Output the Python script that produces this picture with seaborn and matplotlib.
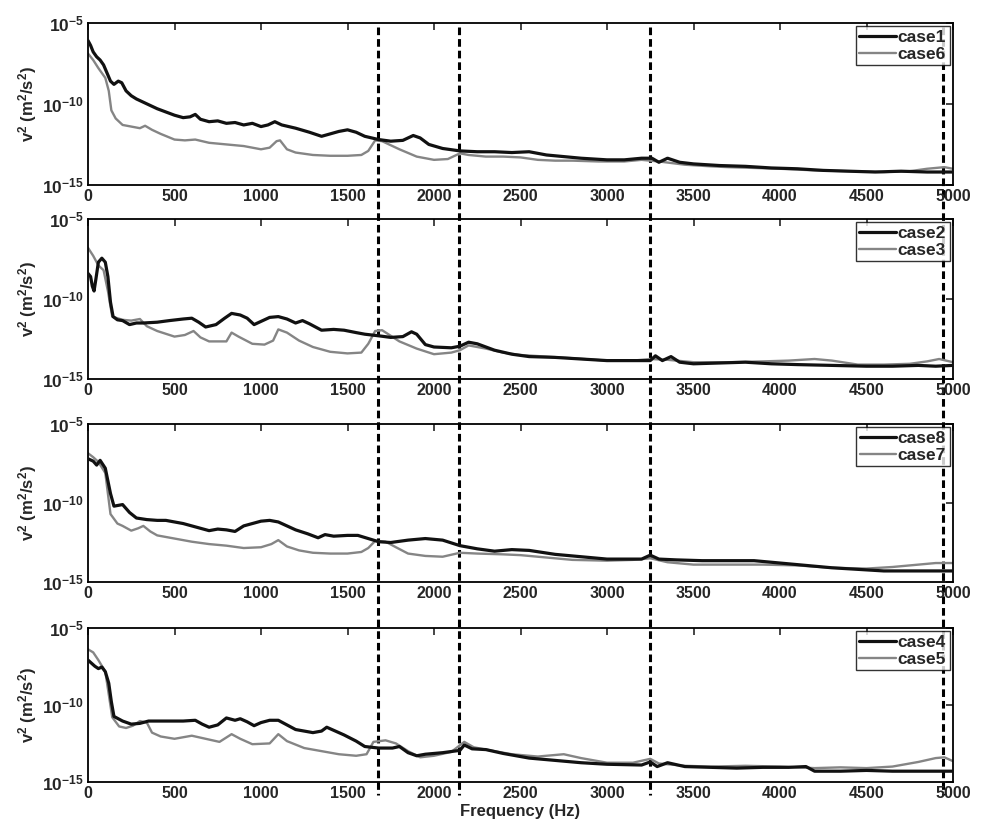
import numpy as np
import pandas as pd
import seaborn as sns
import matplotlib
matplotlib.use("Agg")
import matplotlib.pyplot as plt
from matplotlib.lines import Line2D
from matplotlib.ticker import FixedLocator, FixedFormatter, NullLocator
from matplotlib.transforms import blended_transform_factory

# spectra: frequency (Hz) and log10 of v^2 (m^2/s^2)
case1_f = [0, 15, 30, 50, 70, 90, 110, 130, 150, 175, 195, 220, 250, 280, 320, 360, 400, 450, 500, 550,
           590, 620, 650, 700, 750, 800, 850, 900, 950, 1000, 1040, 1080, 1120, 1200, 1280, 1350, 1400,
           1450, 1500, 1550, 1600, 1680, 1750, 1820, 1880, 1920, 1970, 2050, 2150, 2250, 2350, 2450,
           2550, 2650, 2750, 2850, 3000, 3100, 3200, 3260, 3300, 3350, 3420, 3500, 3650, 3800, 3950,
           4100, 4250, 4400, 4550, 4700, 4850, 5000]
case1_e = [-6.1, -6.4, -6.8, -7.1, -7.3, -7.6, -8.1, -8.6, -8.8, -8.6, -8.7, -9.2, -9.5, -9.7, -9.9, -10.1,
           -10.3, -10.5, -10.7, -10.85, -10.8, -10.65, -10.95, -11.1, -11.05, -11.2, -11.15, -11.3, -11.2,
           -11.4, -11.3, -11.1, -11.3, -11.5, -11.75, -12.0, -11.85, -11.7, -11.6, -11.75, -12.0, -12.2,
           -12.3, -12.25, -11.95, -12.1, -12.5, -12.75, -12.9, -12.95, -12.95, -13.0, -12.95, -13.15,
           -13.25, -13.35, -13.45, -13.45, -13.35, -13.35, -13.6, -13.35, -13.6, -13.7, -13.8, -13.85,
           -13.95, -14.0, -14.1, -14.15, -14.2, -14.15, -14.2, -14.2]

case6_f = [0, 30, 60, 100, 120, 135, 160, 200, 250, 300, 330, 370, 420, 500, 560, 620, 700, 800, 900, 1000,
           1050, 1090, 1110, 1150, 1200, 1300, 1400, 1500, 1580, 1620, 1660, 1700, 1800, 1900, 2000, 2080,
           2150, 2200, 2300, 2400, 2500, 2600, 2700, 2800, 2950, 3100, 3200, 3300, 3450, 3600, 3700, 3850,
           4000, 4200, 4400, 4600, 4750, 4850, 4950, 5000]
case6_e = [-6.9, -7.3, -7.8, -8.4, -9.2, -10.4, -10.9, -11.3, -11.4, -11.5, -11.35, -11.6, -11.85, -12.2,
           -12.25, -12.2, -12.4, -12.5, -12.6, -12.8, -12.7, -12.3, -12.25, -12.8, -13.0, -13.15, -13.2,
           -13.2, -13.15, -12.9, -12.25, -12.3, -12.8, -13.25, -13.45, -13.4, -13.05, -13.15, -13.25,
           -13.25, -13.3, -13.45, -13.5, -13.5, -13.55, -13.55, -13.45, -13.55, -13.75, -13.85, -13.9,
           -13.95, -14.0, -14.1, -14.15, -14.2, -14.15, -14.0, -13.9, -14.0]

case2_f = [0, 15, 25, 35, 45, 60, 80, 100, 115, 130, 145, 170, 200, 240, 280, 320, 400, 470, 550, 600, 640,
           680, 740, 790, 830, 880, 920, 960, 1000, 1050, 1100, 1150, 1200, 1240, 1280, 1350, 1420, 1480,
           1550, 1600, 1680, 1750, 1820, 1870, 1900, 1950, 2000, 2100, 2150, 2200, 2250, 2350, 2450, 2550,
           2700, 2850, 3000, 3150, 3250, 3280, 3320, 3370, 3420, 3500, 3650, 3800, 3950, 4100, 4300, 4500,
           4650, 4800, 4900, 5000]
case2_e = [-8.4, -8.6, -9.2, -9.5, -8.8, -7.7, -7.45, -7.7, -8.6, -10.2, -11.1, -11.3, -11.35, -11.6,
           -11.5, -11.5, -11.45, -11.35, -11.25, -11.2, -11.45, -11.75, -11.6, -11.2, -10.9, -11.0, -11.2,
           -11.6, -11.4, -11.15, -11.1, -11.25, -11.5, -11.35, -11.55, -11.95, -11.9, -11.95, -12.1, -12.2,
           -12.3, -12.4, -12.35, -12.05, -12.2, -12.85, -13.0, -13.05, -12.95, -12.7, -12.8, -13.2, -13.45,
           -13.6, -13.65, -13.75, -13.85, -13.85, -13.85, -13.55, -13.85, -13.6, -13.95, -14.05, -14.0,
           -13.95, -14.05, -14.1, -14.15, -14.2, -14.2, -14.15, -14.2, -14.15]

case3_f = [0, 30, 60, 90, 115, 140, 200, 250, 300, 340, 400, 500, 560, 610, 650, 700, 800, 830, 870, 950,
           1020, 1070, 1100, 1150, 1220, 1300, 1400, 1500, 1580, 1620, 1660, 1700, 1750, 1800, 1900, 2000,
           2100, 2150, 2200, 2300, 2400, 2500, 2650, 2800, 3000, 3150, 3250, 3350, 3500, 3700, 3900, 4050,
           4200, 4300, 4450, 4600, 4750, 4850, 4920, 5000]
case3_e = [-6.8, -7.3, -7.9, -8.2, -9.5, -11.1, -11.3, -11.35, -11.25, -11.7, -12.0, -12.35, -12.25, -12.0,
           -12.4, -12.65, -12.65, -12.1, -12.35, -12.8, -12.85, -12.6, -11.9, -12.1, -12.6, -13.0, -13.3,
           -13.4, -13.35, -12.8, -12.0, -11.95, -12.3, -12.65, -13.1, -13.45, -13.35, -13.2, -12.9, -13.1,
           -13.35, -13.5, -13.6, -13.7, -13.85, -13.85, -13.75, -13.8, -13.95, -13.95, -13.9, -13.85,
           -13.75, -13.85, -14.1, -14.1, -14.05, -13.9, -13.75, -13.95]

case8_f = [0, 30, 50, 70, 100, 130, 150, 175, 200, 240, 280, 340, 400, 450, 500, 550, 600, 650, 700, 750,
           800, 850, 900, 950, 1000, 1050, 1100, 1150, 1200, 1270, 1330, 1370, 1420, 1500, 1560, 1620, 1680,
           1750, 1850, 1950, 2050, 2150, 2250, 2350, 2450, 2550, 2700, 2850, 3000, 3200, 3250, 3300, 3400,
           3550, 3700, 3850, 4000, 4150, 4300, 4450, 4600, 4750, 4900, 5000]
case8_e = [-7.2, -7.35, -7.6, -7.3, -7.8, -9.4, -10.2, -10.15, -10.1, -10.6, -10.95, -11.05, -11.1, -11.1,
           -11.2, -11.3, -11.45, -11.6, -11.75, -11.65, -11.7, -11.8, -11.45, -11.3, -11.15, -11.1, -11.2,
           -11.45, -11.7, -11.95, -12.2, -12.0, -12.1, -12.05, -12.05, -12.25, -12.45, -12.5, -12.35, -12.25,
           -12.35, -12.7, -12.9, -13.05, -12.95, -13.0, -13.25, -13.4, -13.55, -13.55, -13.3, -13.55, -13.6,
           -13.65, -13.65, -13.65, -13.8, -13.95, -14.1, -14.2, -14.3, -14.3, -14.3, -14.3]

case7_f = [0, 30, 60, 100, 130, 170, 200, 250, 290, 320, 360, 400, 500, 600, 700, 800, 900, 1000, 1060, 1100,
           1150, 1220, 1300, 1400, 1500, 1580, 1620, 1660, 1720, 1780, 1850, 1950, 2050, 2150, 2250, 2400,
           2500, 2650, 2800, 3000, 3150, 3250, 3350, 3500, 3700, 3900, 4100, 4300, 4500, 4650, 4800, 4900,
           5000]
case7_e = [-6.85, -7.1, -7.4, -8.1, -10.7, -11.3, -11.45, -11.75, -11.6, -11.45, -11.8, -12.05, -12.25,
           -12.45, -12.6, -12.7, -12.85, -12.8, -12.6, -12.35, -12.75, -13.0, -13.15, -13.2, -13.2, -13.1,
           -12.85, -12.4, -12.45, -12.8, -13.2, -13.35, -13.4, -13.15, -13.2, -13.25, -13.3, -13.45, -13.6,
           -13.65, -13.6, -13.5, -13.75, -13.9, -13.9, -13.9, -13.95, -14.1, -14.15, -14.05, -13.9, -13.8,
           -13.8]

case4_f = [0, 20, 40, 60, 80, 100, 120, 135, 150, 200, 250, 300, 350, 450, 550, 620, 660, 700, 750, 800, 850,
           880, 920, 960, 1000, 1050, 1100, 1150, 1200, 1300, 1350, 1380, 1420, 1480, 1550, 1600, 1680, 1760,
           1800, 1850, 1900, 1950, 2050, 2150, 2175, 2220, 2300, 2400, 2550, 2700, 2850, 3000, 3200, 3250,
           3290, 3350, 3450, 3600, 3750, 3900, 4050, 4150, 4200, 4350, 4500, 4650, 4800, 5000]
case4_e = [-7.1, -7.3, -7.5, -7.65, -7.55, -7.85, -8.6, -9.8, -10.75, -11.05, -11.25, -11.2, -11.05, -11.05,
           -11.05, -11.0, -11.25, -11.45, -11.3, -10.85, -11.0, -10.9, -11.1, -11.35, -11.15, -11.0, -11.0,
           -11.3, -11.6, -11.8, -11.7, -11.45, -11.65, -11.95, -12.35, -12.7, -12.8, -12.8, -12.7, -13.1,
           -13.3, -13.2, -13.1, -12.95, -12.6, -12.85, -12.9, -13.15, -13.45, -13.6, -13.75, -13.85, -13.9,
           -13.7, -14.0, -13.75, -14.0, -14.05, -14.1, -14.05, -14.05, -14.0, -14.3, -14.3, -14.25, -14.3,
           -14.3, -14.3]

case5_f = [0, 30, 60, 100, 140, 180, 220, 260, 300, 340, 370, 420, 500, 600, 680, 760, 830, 880, 950, 1050,
           1100, 1150, 1250, 1350, 1450, 1550, 1610, 1650, 1720, 1780, 1850, 1920, 2000, 2100, 2175, 2230,
           2300, 2450, 2600, 2750, 2850, 3000, 3150, 3250, 3300, 3450, 3600, 3800, 4000, 4200, 4350, 4500,
           4650, 4800, 4900, 4950, 5000]
case5_e = [-6.4, -6.6, -7.1, -7.85, -10.8, -11.4, -11.5, -11.35, -11.05, -11.15, -11.8, -12.05, -12.2, -12.0,
           -12.2, -12.4, -11.9, -12.2, -12.55, -12.5, -11.9, -12.35, -12.8, -13.0, -13.2, -13.3, -13.2,
           -12.4, -12.3, -12.5, -13.0, -13.4, -13.3, -13.05, -12.4, -12.75, -12.9, -13.2, -13.35, -13.2,
           -13.45, -13.75, -13.75, -13.5, -13.8, -13.95, -14.0, -13.95, -14.0, -14.1, -14.05, -14.1, -14.0,
           -13.7, -13.45, -13.4, -13.65]

# panel pairs (dark curve first, grey curve second)
panels = [
    ("case1", case1_f, case1_e, "case6", case6_f, case6_e),
    ("case2", case2_f, case2_e, "case3", case3_f, case3_e),
    ("case8", case8_f, case8_e, "case7", case7_f, case7_e),
    ("case4", case4_f, case4_e, "case5", case5_f, case5_e),
]
mark_freqs = [1676, 2144, 3249, 4940]

sns.set_style("white")
plt.rcParams['font.family'] = ['Liberation Sans', 'DejaVu Sans']
plt.rcParams['font.weight'] = 'bold'
plt.rcParams['mathtext.fontset'] = 'custom'
plt.rcParams['mathtext.rm'] = 'Liberation Sans:bold'
plt.rcParams['mathtext.bf'] = 'Liberation Sans:bold'
plt.rcParams['mathtext.it'] = 'Liberation Sans:bold'

fig = plt.figure(figsize=(9.84, 8.25), dpi=100)

# axes boxes in pixels: (top, bottom)
boxes = [(22.7, 185), (219, 379), (424, 582), (627.7, 782)]
left, width = 88 / 984, 865 / 984
axes = []
for (top, bot), (n1, f1, e1, n2, f2, e2) in zip(boxes, panels):
    ax = fig.add_axes([left, 1 - bot / 825, width, (bot - top) / 825])
    ax.set_facecolor('none')
    df = pd.concat([
        pd.DataFrame({"freq": f1, "v2": 10.0 ** np.array(e1), "case": n1}),
        pd.DataFrame({"freq": f2, "v2": 10.0 ** np.array(e2), "case": n2}),
    ])
    sns.lineplot(data=df[df["case"] == n1], x="freq", y="v2", ax=ax, color="#111111",
                 lw=2.3, estimator=None, sort=False, label=n1, zorder=3)
    sns.lineplot(data=df[df["case"] == n2], x="freq", y="v2", ax=ax, color="#858585",
                 lw=1.7, estimator=None, sort=False, label=n2, zorder=2)
    ax.set_yscale('log')
    ax.set_ylim(1e-15, 1e-5)
    ax.set_xlim(0, 5000)
    ax.yaxis.set_major_locator(FixedLocator([1e-15, 1e-10, 1e-5]))
    ax.yaxis.set_major_formatter(FixedFormatter([r'$10^{-15}$', r'$10^{-10}$', r'$10^{-5}$']))
    ax.yaxis.set_minor_locator(NullLocator())
    ax.set_xticks(np.arange(0, 5001, 500))
    ax.tick_params(direction='in', top=True, right=True, length=5, width=1.2, pad=3)
    ax.tick_params(axis='x', labelsize=11.5)
    ax.tick_params(axis='y', labelsize=12.5)
    for lab in ax.get_xticklabels():
        lab.set_fontweight('bold')
    for sp in ax.spines.values():
        sp.set_color('black')
        sp.set_linewidth(1.3)
    ax.set_xlabel("")
    ax.set_ylabel(r'v$^2$ (m$^2$/s$^2$)', fontsize=12, fontweight='bold', labelpad=2)
    leg = ax.legend(loc='upper right', fontsize=12.5, frameon=True, fancybox=False,
                    borderpad=0.2, handlelength=2.1, handletextpad=0.1, labelspacing=0.1,
                    borderaxespad=0.2)
    leg.get_frame().set_edgecolor('black')
    leg.get_frame().set_linewidth(1.0)
    for t in leg.get_texts():
        t.set_fontweight('bold')
    axes.append(ax)

axes[-1].set_xlabel("Frequency (Hz)", fontsize=12, fontweight='bold', labelpad=2)

# dashed marker lines running through all four panels
trans = blended_transform_factory(axes[-1].transData, fig.transFigure)
for f in mark_freqs:
    fig.add_artist(Line2D([f, f], [1 - 27 / 825, 1 - 795 / 825], transform=trans,
                          color='black', lw=2.2, linestyle=(0, (2.5, 1.3)), zorder=-1))

fig.savefig("out.png", dpi=100)
